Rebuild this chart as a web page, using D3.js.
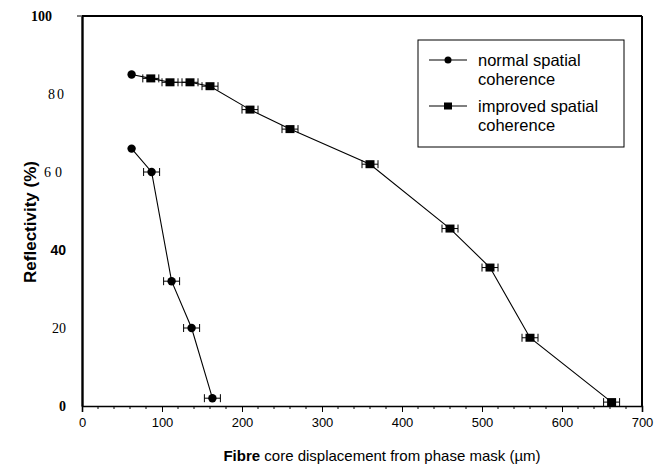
<!DOCTYPE html>
<html><head><meta charset="utf-8">
<script src="https://cdn.jsdelivr.net/npm/d3@7"></script>
<style>html,body{margin:0;padding:0;background:#fff;}svg{display:block;}</style>
</head><body>
<svg id="chart" width="654" height="471"></svg>
<script>
// ---- data ----
const normalX = [62, 87, 112, 137, 163];
const normalY = [66, 60, 32, 20, 2];
const normalErr = [0, 10, 10, 10, 10];
const improvedX = [62, 86, 110, 135, 160, 210, 260, 360, 460, 510, 560, 662];
const improvedY = [85, 84, 83, 83, 82, 76, 71, 62, 45.5, 35.5, 17.5, 1];
const improvedErr = [0, 10, 10, 10, 10, 10, 10, 10, 10, 10, 10, 10];
const xTicks = [0, 100, 200, 300, 400, 500, 600, 700];
const yTicks = [0, 20, 40, 60, 80, 100];
const legendLabels = [["normal spatial", "coherence"], ["improved spatial", "coherence"]];

const svg = d3.select("#chart");
const x = d3.scaleLinear().domain([0, 700]).range([82, 642]);
const y = d3.scaleLinear().domain([0, 100]).range([406, 16]);

// frame
svg.append("line").attr("x1", x(0)).attr("x2", x(700)).attr("y1", y(100)).attr("y2", y(100)).attr("stroke", "#000").attr("stroke-width", 2);
svg.append("line").attr("x1", x(700)).attr("x2", x(700)).attr("y1", y(100)).attr("y2", y(0)).attr("stroke", "#000").attr("stroke-width", 2);

// x axis
const xAxis = d3.axisBottom(x).tickValues(xTicks).tickSize(6).tickFormat(d3.format("d"));
const gx = svg.append("g").attr("transform", `translate(0,${y(0)})`).call(xAxis);
gx.select(".domain").attr("stroke-width", 1.6);
gx.selectAll(".tick text").attr("font-family", "Liberation Sans, Arial, sans-serif").attr("font-size", 13).attr("dy", "0.9em").attr("fill", "#000");
const minor = d3.range(0, 701, 20).filter(v => v % 100 !== 0);
svg.append("g").selectAll("line").data(minor).join("line")
  .attr("x1", d => x(d)).attr("x2", d => x(d)).attr("y1", y(0)).attr("y2", y(0) + 3)
  .attr("stroke", "#000").attr("stroke-width", 1);

// y axis
const yStyles = {
  0: {f: "Liberation Serif, serif", w: "bold", ls: 0},
  20: {f: "Liberation Serif, serif", w: "normal", ls: 0},
  40: {f: "Liberation Sans, Arial, sans-serif", w: "bold", ls: 0},
  60: {f: "Liberation Serif, serif", w: "normal", ls: 4},
  80: {f: "Liberation Serif, serif", w: "normal", ls: 2},
  100: {f: "Liberation Serif, serif", w: "bold", ls: 0}
};
const yAxis = d3.axisLeft(y).tickValues(yTicks).tickSize(0).tickPadding(16);
const gy = svg.append("g").attr("transform", `translate(${x(0)},0)`).call(yAxis);
gy.select(".domain").attr("stroke-width", 2.4);
gy.selectAll(".tick text")
  .attr("font-family", d => yStyles[d].f)
  .attr("font-weight", d => yStyles[d].w)
  .attr("letter-spacing", d => yStyles[d].ls)
  .attr("font-size", 14).attr("fill", "#000")
  .attr("dx", d => d === 100 ? -14 : 0);
svg.append("line").attr("x1", x(0) - 5).attr("x2", x(0)).attr("y1", y(100)).attr("y2", y(100)).attr("stroke", "#000").attr("stroke-width", 1);

// y title
svg.append("text").attr("transform", `translate(36,222) rotate(-90)`)
  .attr("text-anchor", "middle").attr("font-family", "Liberation Sans, Arial, sans-serif")
  .attr("font-weight", "bold").attr("font-size", 17).text("Reflectivity (%)");

// x title
const xt = svg.append("text").attr("x", 382).attr("y", 461).attr("text-anchor", "middle")
  .attr("font-family", "Liberation Sans, Arial, sans-serif").attr("font-size", 15);
xt.append("tspan").attr("font-weight", "bold").text("Fibre");
xt.append("tspan").text(" core displacement from phase mask (\u00b5m)");

// series
function drawSeries(xs, ys, errs, shape) {
  const pts = xs.map((v, i) => ({x: v, y: ys[i], e: errs[i], i}));
  const line = d3.line().x(d => x(d.x)).y(d => y(d.y));
  svg.append("path").datum(pts).attr("d", line).attr("fill", "none").attr("stroke", "#000").attr("stroke-width", 1.1);
  const eb = svg.append("g").attr("stroke", "#000").attr("stroke-width", 1);
  pts.filter(d => d.e > 0).forEach(d => {
    eb.append("line").attr("x1", x(d.x - d.e)).attr("x2", x(d.x + d.e)).attr("y1", y(d.y)).attr("y2", y(d.y));
    eb.append("line").attr("x1", x(d.x - d.e)).attr("x2", x(d.x - d.e)).attr("y1", y(d.y) - 4).attr("y2", y(d.y) + 4);
    eb.append("line").attr("x1", x(d.x + d.e)).attr("x2", x(d.x + d.e)).attr("y1", y(d.y) - 4).attr("y2", y(d.y) + 4);
  });
  pts.forEach(d => {
    if (shape === "circle" || d.i === 0) {
      svg.append("circle").attr("cx", x(d.x)).attr("cy", y(d.y)).attr("r", 4.2).attr("fill", "#000");
    } else {
      svg.append("rect").attr("x", x(d.x) - 4.5).attr("y", y(d.y) - 4).attr("width", 9).attr("height", 8).attr("fill", "#000");
    }
  });
}
drawSeries(normalX, normalY, normalErr, "circle");
drawSeries(improvedX, improvedY, improvedErr, "square");

// legend
const lg = svg.append("g");
lg.append("rect").attr("x", 418).attr("y", 40).attr("width", 206).attr("height", 107)
  .attr("fill", "#fff").attr("stroke", "#000").attr("stroke-width", 1);
const shapes = ["circle", "square"];
legendLabels.forEach((lines, i) => {
  const yy = 60 + i * 46;
  lg.append("line").attr("x1", 429).attr("x2", 467).attr("y1", yy).attr("y2", yy).attr("stroke", "#000").attr("stroke-width", 1.2);
  if (shapes[i] === "circle") lg.append("circle").attr("cx", 448).attr("cy", yy).attr("r", 3.5);
  else lg.append("rect").attr("x", 444).attr("y", yy - 3.5).attr("width", 8).attr("height", 7);
  lines.forEach((t, j) => {
    lg.append("text").attr("x", 478).attr("y", yy + 6 + j * 18.5)
      .attr("font-family", "Liberation Sans, Arial, sans-serif").attr("font-size", 16.5).text(t);
  });
});
</script>
</body></html>
